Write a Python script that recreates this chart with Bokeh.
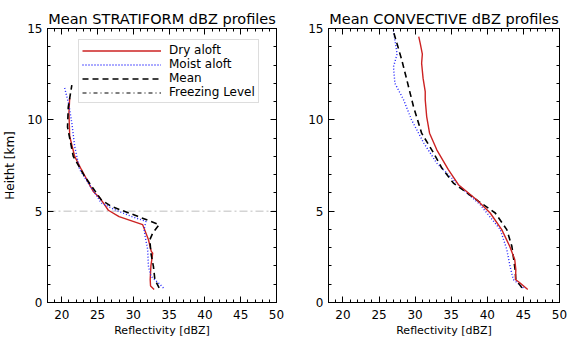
from bokeh.plotting import figure
from bokeh.layouts import row
from bokeh.models import (Range1d, LinearAxis, SingleIntervalTicker, Legend,
                          LegendItem, ColumnDataSource, CustomJSTickFormatter)
from bokeh.embed import file_html
from bokeh.resources import INLINE

FONT = "DejaVu Sans"
X_MIN, X_MAX = 18, 50
Y_MIN, Y_MAX = 0, 15
FREEZING_LEVEL = 5.0

# ---- Stratiform profiles (height km, reflectivity dBZ) ----
strat_dry_h = [0.71, 0.9, 1.26, 2.0, 2.7, 2.8, 3.45, 4.26, 4.7, 5.05, 5.45, 5.72, 6.08, 6.36, 7.27, 8.0, 9.1, 10.4, 11.2]
strat_dry_z = [32.9, 32.4, 32.35, 32.45, 32.7, 32.5, 32.1, 31.3, 28.0, 26.5, 25.8, 25.3, 24.4, 24.0, 22.75, 21.8, 21.1, 21.0, 21.1]

strat_moist_h = [0.8, 1.0, 1.44, 2.0, 2.9, 3.5, 4.0, 4.44, 4.7, 5.08, 5.45, 6.0, 6.54, 7.27, 8.54, 9.82, 10.8, 11.82]
strat_moist_z = [34.2, 33.7, 32.45, 32.1, 32.0, 31.7, 31.5, 31.75, 29.8, 27.4, 25.5, 24.6, 23.7, 22.5, 21.8, 21.4, 21.0, 20.35]

strat_mean_h = [0.8, 1.26, 1.98, 2.7, 3.44, 3.8, 4.26, 4.72, 5.26, 5.63, 6.9, 8.0, 9.6, 10.7, 11.9]
strat_mean_z = [33.6, 33.0, 32.8, 32.45, 32.3, 32.7, 33.6, 30.6, 26.9, 25.5, 23.2, 21.6, 20.8, 20.9, 21.4]

# ---- Convective profiles ----
conv_dry_h = [0.71, 1.08, 1.26, 1.8, 2.35, 3.08, 3.99, 4.9, 5.6, 6.45, 7.27, 8.36, 9.27, 10.18, 11.1, 11.55, 12.28, 13.1, 13.6, 14.2, 14.55]
conv_dry_z = [45.6, 44.5, 43.9, 43.95, 43.8, 43.1, 42.0, 40.4, 38.6, 36.0, 34.6, 33.0, 32.0, 31.6, 31.4, 31.4, 31.1, 30.9, 31.0, 30.7, 30.5]

conv_moist_h = [0.8, 1.26, 1.98, 2.9, 3.99, 5.36, 6.17, 7.63, 8.73, 10.0, 11.1, 12.0, 12.9, 13.6, 14.9]
conv_moist_z = [45.0, 43.6, 43.15, 42.7, 41.8, 39.0, 36.7, 33.0, 31.2, 29.5, 28.4, 27.2, 27.0, 27.5, 27.0]

conv_mean_h = [0.8, 1.26, 1.8, 3.08, 3.99, 4.9, 5.54, 6.54, 7.36, 8.36, 9.27, 10.73, 12.19, 13.28, 14.2, 14.83]
conv_mean_z = [44.8, 43.95, 43.85, 43.4, 42.7, 41.1, 38.8, 35.3, 33.7, 32.3, 30.9, 29.77, 28.85, 28.15, 27.47, 27.0]

LEGEND_LABELS = ["Dry aloft", "Moist aloft", "Mean", "Freezing Level"]

RED = "#cc2222"
BLUE = "#2222ff"
FIG_H = 339


def style_axis(ax, interval, labels=True):
    ax.ticker = SingleIntervalTicker(interval=interval, num_minor_ticks=5)
    ax.major_tick_in = 6
    ax.major_tick_out = 0
    ax.minor_tick_in = 3
    ax.minor_tick_out = 0
    ax.axis_line_color = "black"
    ax.major_tick_line_color = "black"
    ax.minor_tick_line_color = "black"
    if labels:
        ax.major_label_text_font = FONT
        ax.major_label_text_font_size = "12px"
        ax.major_label_text_color = "black"
        ax.major_label_standoff = 5
    else:
        ax.formatter = CustomJSTickFormatter(code="return ''")
        ax.major_label_text_font_size = "1px"
        ax.major_label_standoff = 0
        ax.axis_label_standoff = 0


def make_panel(title, width, border_left, border_right, ylabel):
    p = figure(width=width, height=FIG_H,
               x_range=Range1d(X_MIN, X_MAX), y_range=Range1d(Y_MIN, Y_MAX),
               output_backend="svg", toolbar_location=None,
               min_border_left=border_left, min_border_right=border_right,
               min_border_top=28, min_border_bottom=36)
    p.title.text = title
    p.title.text_font = FONT
    p.title.text_font_size = "14.5px"
    p.title.text_font_style = "normal"
    p.title.text_color = "black"
    p.title.align = "center"
    p.title.standoff = 4
    p.title.offset = 0
    p.grid.visible = False
    p.outline_line_color = "black"
    p.background_fill_color = "white"
    p.border_fill_color = "white"

    style_axis(p.xaxis[0], 5)
    style_axis(p.yaxis[0], 5)
    p.xaxis[0].major_label_standoff = 7
    p.xaxis[0].axis_label = "Reflectivity [dBZ]"
    p.xaxis[0].axis_label_text_font = FONT
    p.xaxis[0].axis_label_text_font_size = "11px"
    p.xaxis[0].axis_label_text_font_style = "normal"
    p.xaxis[0].axis_label_text_color = "black"
    p.xaxis[0].axis_label_standoff = 2
    if ylabel:
        p.yaxis[0].axis_label = ylabel
        p.yaxis[0].axis_label_text_font = FONT
        p.yaxis[0].axis_label_text_font_size = "12px"
        p.yaxis[0].axis_label_text_font_style = "normal"
        p.yaxis[0].axis_label_text_color = "black"
        p.yaxis[0].axis_label_standoff = 7

    top = LinearAxis()
    style_axis(top, 5, labels=False)
    p.add_layout(top, "above")
    right = LinearAxis()
    style_axis(right, 5, labels=False)
    p.add_layout(right, "right")
    return p


# ---- left panel ----
p1 = make_panel("Mean STRATIFORM dBZ profiles", 290, 46, 14, "Heitht [km]")

fz_src = ColumnDataSource(dict(x=[X_MIN, X_MAX], y=[FREEZING_LEVEL, FREEZING_LEVEL]))
p1.line("x", "y", source=fz_src, line_color="#d4d4d4", line_width=1.5,
        line_dash="8 3 2 3")

r_dry = p1.line(strat_dry_z, strat_dry_h, line_color=RED, line_width=1.4)
r_moist = p1.line(strat_moist_z, strat_moist_h, line_color=BLUE, line_width=1.4,
                  line_dash="1 2")
r_mean = p1.line(strat_mean_z, strat_mean_h, line_color="black", line_width=1.6,
                 line_dash="6 4")
r_fz = p1.line("x", "y", source=fz_src, line_color="black", line_width=1.2,
               line_dash="4 3 1 3", visible=False)

legend = Legend(items=[LegendItem(label=LEGEND_LABELS[0], renderers=[r_dry]),
                       LegendItem(label=LEGEND_LABELS[1], renderers=[r_moist]),
                       LegendItem(label=LEGEND_LABELS[2], renderers=[r_mean]),
                       LegendItem(label=LEGEND_LABELS[3], renderers=[r_fz])],
                location=(31, 199))
legend.margin = 0
legend.padding = 3
legend.spacing = 0
legend.glyph_width = 79
legend.glyph_height = 13
legend.label_height = 13
legend.label_standoff = 8
legend.label_text_font = FONT
legend.label_text_font_size = "12px"
legend.label_text_color = "black"
legend.border_line_color = "#bbbbbb"
legend.border_line_width = 1
legend.background_fill_color = "white"
legend.background_fill_alpha = 1.0
p1.add_layout(legend, "center")

# ---- right panel ----
p2 = make_panel("Mean CONVECTIVE dBZ profiles", 277, 38, 8, None)
p2.line(conv_moist_z, conv_moist_h, line_color=BLUE, line_width=1.4, line_dash="1 2")
p2.line(conv_mean_z, conv_mean_h, line_color="black", line_width=1.6, line_dash="6 4")
p2.line(conv_dry_z, conv_dry_h, line_color=RED, line_width=1.4)

layout = row(p1, p2, spacing=0)
open("out.html", "w").write(file_html(layout, INLINE))
